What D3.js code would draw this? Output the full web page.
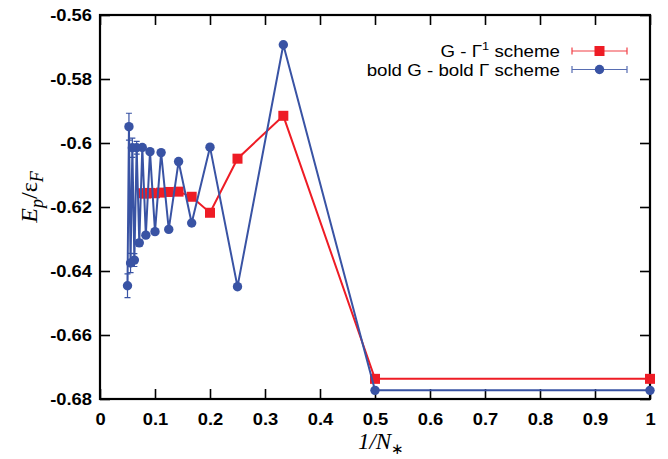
<!DOCTYPE html>
<html><head><meta charset="utf-8">
<script src="https://cdnjs.cloudflare.com/ajax/libs/d3/7.8.5/d3.min.js"></script>
<style>body{margin:0;background:#fff}svg{display:block}</style>
</head><body>
<script>
const redN   = [1,2,3,4,5,6,7,8,9,10,11,12,13];
const redE   = [-0.6737,-0.6737,-0.5915,-0.6049,-0.6218,-0.6168,-0.6152,-0.6153,-0.6155,-0.6157,-0.6156,-0.6158,-0.6157];
const redErr = [0,0,0,0,0,0,0,0,0,0,0,0,0];
const blueN   = [1,2,3,4,5,6,7,8,9,10,11,12,13,14,15,16,17,18,19,20];
const blueE   = [-0.6773,-0.6773,-0.5693,-0.6449,-0.6013,-0.6250,-0.6058,-0.6270,-0.6030,-0.6277,-0.6027,-0.6288,-0.6014,-0.6312,-0.6015,-0.6366,-0.6015,-0.6375,-0.5949,-0.6446];
const blueErr = [0,0,0,0,0,0,0,0,0,0,0,0,0.0008,0.001,0.002,0.002,0.003,0.003,0.0042,0.0037];
const xTicks = [0,0.1,0.2,0.3,0.4,0.5,0.6,0.7,0.8,0.9,1];
const yTicks = [-0.68,-0.66,-0.64,-0.62,-0.6,-0.58,-0.56];
const legendLabels = ["G - Γ|1| scheme", "bold G - bold Γ scheme"];

const W=668,H=459, L=100,R=650,T=15,B=399;
const RED="#ee1c25", BLUE="#3953a4";
const svg=d3.select("body").append("svg").attr("width",W).attr("height",H);
const x=d3.scaleLinear().domain([0,1]).range([L,R]);
const y=d3.scaleLinear().domain([-0.68,-0.56]).range([B,T]);
const fmt=d=>String(+d.toFixed(2));
const SX=1.08;

function styleAxis(g, labels){
  g.select(".domain").remove();
  g.selectAll(".tick line").attr("stroke","#000").attr("stroke-width",1.6);
  if(!labels){ g.selectAll(".tick text").remove(); return; }
  g.selectAll(".tick text").attr("font-family","'Liberation Sans',Arial,sans-serif")
    .attr("font-weight","bold").attr("font-size",17).attr("fill","#000")
    .each(function(){const t=d3.select(this);const xx=+(t.attr("x")||0);t.attr("x",xx/SX).attr("transform",`scale(${SX},1)`);});
}
svg.append("g").attr("transform",`translate(${L},0)`)
  .call(d3.axisLeft(y).tickValues(yTicks).tickFormat(fmt).tickSize(-10).tickPadding(8)).call(g=>styleAxis(g,true));
svg.append("g").attr("transform",`translate(${R},0)`)
  .call(d3.axisRight(y).tickValues(yTicks).tickSize(-10)).call(g=>styleAxis(g,false));
svg.append("g").attr("transform",`translate(0,${B})`)
  .call(d3.axisBottom(x).tickValues(xTicks).tickFormat(fmt).tickSize(-10).tickPadding(14)).call(g=>styleAxis(g,true));
svg.append("g").attr("transform",`translate(0,${T})`)
  .call(d3.axisTop(x).tickValues(xTicks).tickSize(-10)).call(g=>styleAxis(g,false));
svg.append("rect").attr("x",L).attr("y",T).attr("width",R-L).attr("height",B-T)
  .attr("fill","none").attr("stroke","#000").attr("stroke-width",2.2);

function series(N,E,Err,color,shape){
  const pts=N.map((n,i)=>({x:1/n,y:E[i],e:Err[i]}));
  const g=svg.append("g");
  g.append("path").datum(pts).attr("fill","none").attr("stroke",color).attr("stroke-width",2)
    .attr("d",d3.line().x(d=>x(d.x)).y(d=>y(d.y)));
  const eb=pts.filter(d=>d.e>0);
  g.selectAll(".eb").data(eb).join("path").attr("stroke",color).attr("stroke-width",1.2).attr("fill","none")
    .attr("d",d=>{const X=x(d.x),y1=y(d.y+d.e),y2=y(d.y-d.e);return `M${X},${y1}V${y2}M${X-3},${y1}H${X+3}M${X-3},${y2}H${X+3}`;});
  if(shape==="sq") g.selectAll("rect").data(pts).join("rect").attr("x",d=>x(d.x)-5).attr("y",d=>y(d.y)-5)
      .attr("width",10).attr("height",10).attr("fill",color);
  else g.selectAll("circle").data(pts).join("circle").attr("cx",d=>x(d.x)).attr("cy",d=>y(d.y)).attr("r",4.7).attr("fill",color);
}
series(redN,redE,redErr,RED,"sq");
series(blueN,blueE,blueErr,BLUE,"ci");

// legend
const legY=[51,69.5];
[[RED,"sq"],[BLUE,"ci"]].forEach(([c,s],i)=>{
  const yy=legY[i];
  const t=svg.append("text").attr("transform",`translate(560,${yy+6}) scale(1.17,1)`)
    .attr("text-anchor","end").attr("font-family","'Liberation Sans',Arial,sans-serif").attr("font-size",16).attr("fill","#000");
  const parts=legendLabels[i].split("|");
  t.append("tspan").text(parts[0]);
  if(parts.length>1){ t.append("tspan").attr("dy",-7).attr("font-size",11).text(parts[1]);
    t.append("tspan").attr("dy",7).text(parts[2]); }
  svg.append("path").attr("stroke",c).attr("stroke-width",1.2).attr("fill","none").attr("opacity",0.85)
    .attr("d",`M572,${yy}H627M572,${yy-3.5}V${yy+3.5}M627,${yy-3.5}V${yy+3.5}`);
  if(s==="sq") svg.append("rect").attr("x",594.5).attr("y",yy-5).attr("width",10).attr("height",10).attr("fill",c);
  else svg.append("circle").attr("cx",599.5).attr("cy",yy).attr("r",4.7).attr("fill",c);
});

// axis titles
const serif="'Liberation Serif','Times New Roman',serif";
const xl=svg.append("text").attr("x",381).attr("y",449).attr("text-anchor","middle")
  .attr("font-family",serif).attr("font-size",23).attr("font-style","italic").attr("fill","#000");
xl.append("tspan").text("1/N");
xl.append("tspan").attr("dy",5).attr("font-size",15).attr("font-style","normal").text("∗");
const yl=svg.append("text").attr("transform","translate(37,197) rotate(-90)").attr("text-anchor","middle")
  .attr("font-family",serif).attr("font-size",24).attr("fill","#000");
yl.append("tspan").attr("font-style","italic").text("E");
yl.append("tspan").attr("font-style","italic").attr("font-size",18).attr("dy",6).text("p");
yl.append("tspan").attr("dy",-6).text("/ε");
yl.append("tspan").attr("font-style","italic").attr("font-size",18).attr("dy",6).text("F");
</script>
</body></html>
